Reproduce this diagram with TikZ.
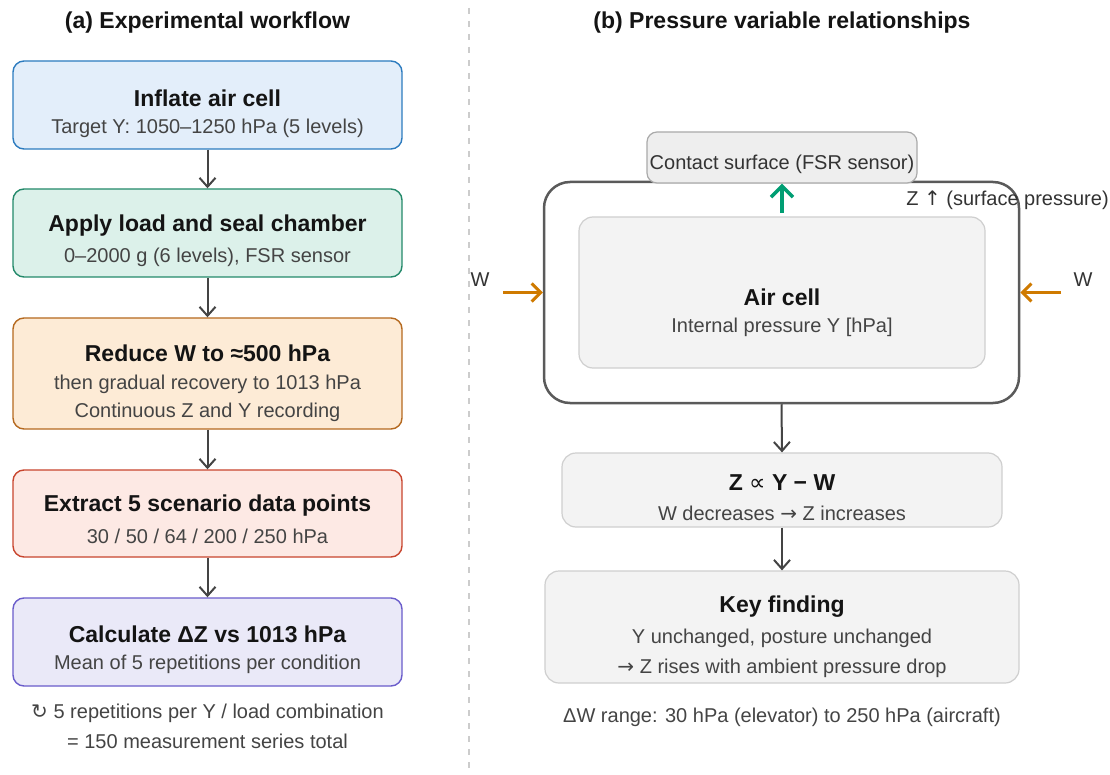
\documentclass[tikz,border=0pt]{standalone}
\usepackage{fontspec}
\setmainfont{Liberation Sans}
\newfontfamily\djv{DejaVu Sans}
\usetikzlibrary{arrows.meta}
\definecolor{titlec}{HTML}{141414}
\definecolor{subc}{HTML}{444444}
\definecolor{arrc}{HTML}{444444}
\definecolor{b1f}{HTML}{E3EEFA}\definecolor{b1d}{HTML}{2C7BBF}
\definecolor{b2f}{HTML}{DCF1EA}\definecolor{b2d}{HTML}{23896A}
\definecolor{b3f}{HTML}{FDEBD6}\definecolor{b3d}{HTML}{B5691F}
\definecolor{b4f}{HTML}{FDE9E4}\definecolor{b4d}{HTML}{C8452E}
\definecolor{b5f}{HTML}{EAE9F8}\definecolor{b5d}{HTML}{6A5CCB}
\definecolor{grayf}{HTML}{F3F3F3}\definecolor{grayd}{HTML}{CFCFCF}
\definecolor{contf}{HTML}{EEEEEE}\definecolor{contd}{HTML}{AAAAAA}
\definecolor{outd}{HTML}{5A5A5A}
\definecolor{greenc}{HTML}{009E73}
\definecolor{orangec}{HTML}{CF7A00}
\definecolor{sepc}{HTML}{CCCCCC}
\begin{document}
\begin{tikzpicture}[x=1pt,y=-1pt,
  box/.style={draw, rounded corners=11pt, line width=1.4pt, minimum width=389pt, inner sep=0pt},
  gbox/.style={draw=grayd, fill=grayf, rounded corners=14pt, line width=1.2pt, inner sep=0pt},
  ttl/.style={font=\fontsize{23}{27}\selectfont\bfseries, text=titlec, inner sep=0pt},
  sub/.style={font=\fontsize{20}{24}\selectfont, text=subc, inner sep=0pt},
  flow/.style={-{Straight Barb[length=9pt,width=16pt,line width=2pt]}, line width=2pt, draw=arrc},
  warr/.style={-{Straight Barb[length=9pt,width=18pt,line width=3pt]}, line width=3pt, draw=orangec},
  garr/.style={-{Straight Barb[length=11pt,width=22pt,line width=3.5pt]}, line width=3.5pt, draw=greenc}]
\useasboundingbox[fill=white] (0,0) rectangle (1110,775);
% separator
\draw[draw=sepc, line width=1.2pt, dash pattern=on 6pt off 7pt] (469,8) -- (469,775);
% panel titles
\node[ttl] (ta) at (207.5,23) {(a) Experimental workflow};
\node[ttl] (tb) at (782,23) {(b) Pressure variable relationships};
% ---------- left column ----------
\node[box, fill=b1f, draw=b1d, minimum height=88pt] (b1) at (207.5,105) {};
\node[ttl] (b1t) at (207.5,98) {Inflate air cell};
\node[sub] (b1s) at (207.5,128) {Target Y: 1050–1250 hPa (5 levels)};
\node[box, fill=b2f, draw=b2d, minimum height=88pt] (b2) at (207.5,233) {};
\node[ttl] (b2t) at (207.5,226) {Apply load and seal chamber};
\node[sub] (b2s) at (207.5,257) {0–2000 g (6 levels), FSR sensor};
\node[box, fill=b3f, draw=b3d, minimum height=111pt] (b3) at (207.5,373.5) {};
\node[ttl] (b3t) at (207.5,353) {Reduce W to ≈500 hPa};
\node[sub] (b3s) at (207.5,384) {then gradual recovery to 1013 hPa};
\node[sub] (b3u) at (207.5,412) {Continuous Z and Y recording};
\node[box, fill=b4f, draw=b4d, minimum height=87pt] (b4) at (207.5,513.5) {};
\node[ttl] (b4t) at (207.5,506) {Extract 5 scenario data points};
\node[sub] (b4s) at (207.5,536) {30 / 50 / 64 / 200 / 250 hPa};
\node[box, fill=b5f, draw=b5d, minimum height=88pt] (b5) at (207.5,642) {};
\node[ttl] (b5t) at (207.5,634) {Calculate ΔZ vs 1013 hPa};
\node[sub] (b5s) at (207.5,664) {Mean of 5 repetitions per condition};
\node[sub] (f1) at (207.5,713) {{\djv ↻} 5 repetitions per Y / load combination};
\node[sub] (f2) at (207.5,741) {= 150 measurement series total};
\draw[flow] (b1.south) -- (b2.north);
\draw[flow] (b2.south) -- (b3.north);
\draw[flow] (b3.south) -- (b4.north);
\draw[flow] (b4.south) -- (b5.north);
% ---------- right column ----------
\node[draw=outd, fill=white, line width=2.5pt, rounded corners=26pt, minimum width=475pt, minimum height=221pt, inner sep=0pt] (outer) at (781.5,292.5) {};
\node[gbox, minimum width=406pt, minimum height=151pt] (inner) at (782,292.5) {};
\node[ttl] (act) at (782,297) {Air cell};
\node[sub] (acs) at (782,327) {Internal pressure Y [hPa]};
\node[draw=contd, fill=contf, rounded corners=10pt, line width=1.2pt, minimum width=270pt, minimum height=51pt, inner sep=0pt] (cont) at (782,157.5) {};
\node[sub, text=black!80] (contt) at (782,164) {Contact surface (FSR sensor)};
\coordinate (gs) at (782,213);
\draw[garr] (gs) -- (cont.south);
\node[sub, text=black!80] (zl) at (1007.5,200) {Z {\djv ↑} (surface pressure)};
\node[sub, text=black!80] (wl) at (480,280) {W};
\node[sub, text=black!80] (wr) at (1083,280) {W};
\coordinate (wls) at (503,292.5);
\coordinate (wrs) at (1061,292.5);
\draw[warr] (wls) -- (outer.west);
\draw[warr] (wrs) -- (outer.east);
\node[gbox, minimum width=440pt, minimum height=74pt] (zb) at (782,490) {};
\node[ttl] (zbt) at (782,483) {Z {\djv\mdseries ∝} Y − W};
\node[sub] (zbs) at (782,513) {W decreases {\djv →} Z increases};
\node[gbox, minimum width=474pt, minimum height=112pt] (kb) at (782,627) {};
\node[ttl] (kbt) at (782,607) {Key finding};
\node[sub] (kbs) at (782,638) {Y unchanged, posture unchanged};
\node[sub] (kbu) at (782,668) {{\djv →} Z rises with ambient pressure drop};
\node[sub] (dw) at (782,717) {ΔW range: 30 hPa (elevator) to 250 hPa (aircraft)};
\draw[flow] (outer.south) -- (zb.north);
\draw[flow] (zb.south) -- (kb.north);
\end{tikzpicture}
\end{document}
